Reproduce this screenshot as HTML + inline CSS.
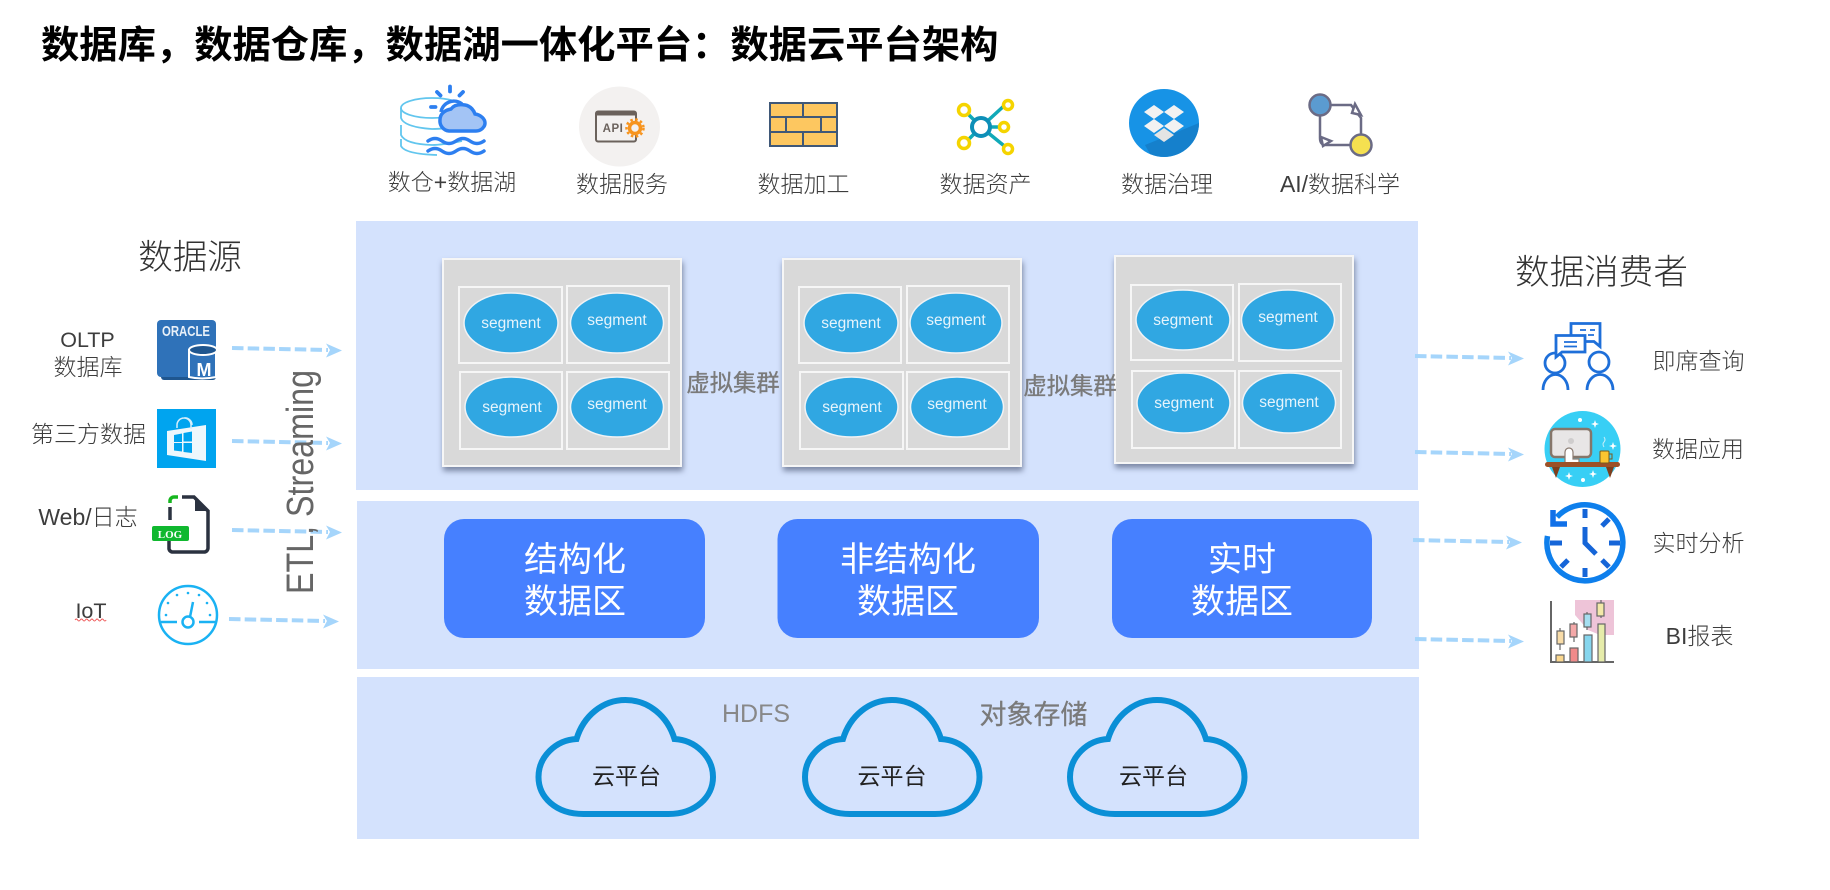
<!DOCTYPE html>
<html lang="zh"><head><meta charset="utf-8"><title>数据云平台架构</title>
<style>
html,body{margin:0;padding:0;background:#fff;width:1830px;height:890px;overflow:hidden}
svg{display:block;filter:blur(.35px)}
text{font-family:"Liberation Sans","Noto Sans CJK SC",sans-serif}
.t{fill:#3d3d3d;font-size:23px;text-anchor:middle;font-weight:300}
.big{fill:#333;font-size:34.6px;text-anchor:middle;font-weight:300}
.seg{fill:#e6f4fc;font-size:15.5px;text-anchor:middle}
.vc{fill:#7a7a7a;font-size:23.3px;text-anchor:middle;stroke:#7a7a7a;stroke-width:.35}
.zone{fill:#fff;font-size:34px;text-anchor:middle}
.cl{fill:#222;font-size:23px;text-anchor:middle}
.panel{fill:#d4e2fd}
.cluster{fill:#d9d9d9;stroke:#f6f6f6;stroke-width:2;filter:drop-shadow(1px 4px 3px rgba(50,60,90,.55))}
.box{fill:none;stroke:#f6f6f6;stroke-width:2}
.el{fill:#30a7e2;stroke:#f0f2f4;stroke-width:1.5}
.zb{fill:#4680ff}
.dash{stroke:#a5d5fb;stroke-width:4;stroke-dasharray:11.5 4.2;fill:none}
.head{fill:#a5d5fb}
.cloud{fill:none;stroke:#0a8fd6;stroke-width:6}
</style></head><body>
<svg width="1830" height="890" viewBox="0 0 1830 890" xmlns="http://www.w3.org/2000/svg">
<defs>
<g id="c"><path class="cloud" d="M41 42C48 19 67 3 90 3C113 3 132 19 139 42C160 43 177.500 60 177.500 80C177.500 100 160 117 133 117L48 117C20 117 3 100 3 80C3 60 20 43 41 42Z"/></g>
</defs>

<text x="41" y="58" font-size="38.3" font-weight="700" fill="#000">数据库，数据仓库，数据湖一体化平台：数据云平台架构</text>

<!-- panels -->
<rect class="panel" x="356" y="221" width="1062" height="269"/>
<rect class="panel" x="357" y="501" width="1062" height="168"/>
<rect class="panel" x="357" y="677" width="1062" height="162"/>

<!-- cluster 1 -->
<rect class="cluster" x="443" y="259" width="238" height="207"/>
<rect class="box" x="459" y="287" width="103" height="76"/>
<rect class="box" x="567" y="286" width="102" height="77"/>
<rect class="box" x="460" y="372" width="102" height="77"/>
<rect class="box" x="567" y="372" width="102" height="77"/>
<ellipse class="el" cx="511" cy="323" rx="47" ry="30"/>
<ellipse class="el" cx="617" cy="323" rx="46.5" ry="30"/>
<ellipse class="el" cx="511.500" cy="407" rx="46.500" ry="30"/>
<ellipse class="el" cx="617" cy="407" rx="46.500" ry="30"/>
<text class="seg" x="511" y="328">segment</text>
<text class="seg" x="617" y="325">segment</text>
<text class="seg" x="512" y="412">segment</text>
<text class="seg" x="617" y="409">segment</text>

<!-- cluster 2 -->
<rect class="cluster" x="783" y="259" width="238" height="207"/>
<rect class="box" x="799" y="287" width="102" height="76"/>
<rect class="box" x="907" y="286" width="102" height="77"/>
<rect class="box" x="800" y="372" width="103" height="77"/>
<rect class="box" x="907" y="372" width="102" height="77"/>
<ellipse class="el" cx="851" cy="323" rx="47" ry="30"/>
<ellipse class="el" cx="956" cy="323" rx="46" ry="30"/>
<ellipse class="el" cx="851.500" cy="407" rx="46.500" ry="30"/>
<ellipse class="el" cx="957" cy="407" rx="46.500" ry="30"/>
<text class="seg" x="851" y="328">segment</text>
<text class="seg" x="956" y="325">segment</text>
<text class="seg" x="852" y="412">segment</text>
<text class="seg" x="957" y="409">segment</text>

<!-- cluster 3 -->
<rect class="cluster" x="1115" y="256" width="238" height="207"/>
<rect class="box" x="1131" y="285" width="102" height="75"/>
<rect class="box" x="1239" y="284" width="102" height="77"/>
<rect class="box" x="1132" y="371" width="103" height="77"/>
<rect class="box" x="1239" y="371" width="102" height="77"/>
<ellipse class="el" cx="1183" cy="320" rx="47" ry="30"/>
<ellipse class="el" cx="1288" cy="320" rx="46.500" ry="30"/>
<ellipse class="el" cx="1183.500" cy="403" rx="46.500" ry="30"/>
<ellipse class="el" cx="1289" cy="403" rx="46.500" ry="30"/>
<text class="seg" x="1183" y="325">segment</text>
<text class="seg" x="1288" y="322">segment</text>
<text class="seg" x="1184" y="408">segment</text>
<text class="seg" x="1289" y="407">segment</text>

<text class="vc" x="733" y="391">虚拟集群</text>
<text class="vc" x="1070" y="394">虚拟集群</text>

<!-- zones -->
<rect class="zb" x="444" y="519" width="261" height="119" rx="20"/>
<rect class="zb" x="777.500" y="519" width="261.500" height="119" rx="20"/>
<rect class="zb" x="1112" y="519" width="260" height="119" rx="20"/>
<text class="zone" x="575" y="571">结构化</text><text class="zone" x="575" y="613">数据区</text>
<text class="zone" x="908" y="571">非结构化</text><text class="zone" x="908" y="613">数据区</text>
<text class="zone" x="1242" y="571">实时</text><text class="zone" x="1242" y="613">数据区</text>

<!-- clouds -->
<use href="#c" x="535.500" y="697"/>
<use href="#c" x="802" y="697"/>
<use href="#c" x="1067" y="697"/>
<text class="cl" x="626.500" y="784">云平台</text>
<text class="cl" x="892" y="784">云平台</text>
<text class="cl" x="1153.500" y="784">云平台</text>
<text x="756" y="722" font-size="25" fill="#888" text-anchor="middle">HDFS</text>
<text x="1033.500" y="724" font-size="27" fill="#7a7a7a" stroke="#7a7a7a" stroke-width=".3" text-anchor="middle">对象存储</text>

<!-- left -->
<text class="big" x="190" y="269">数据源</text>
<text class="t" x="87.500" y="347" style="font-size:21.500px">OLTP</text>
<text class="t" x="88" y="375">数据库</text>
<text class="t" x="88.500" y="442">第三方数据</text>
<text class="t" x="88" y="525">Web/日志</text>
<text class="t" x="91" y="618" style="font-size:21.500px">IoT</text>
<path d="M75 620q1.300-2 2.600 0t2.600 0 2.600 0 2.600 0 2.600 0 2.600 0 2.600 0 2.600 0 2.600 0 2.600 0 2.600 0 2.600 0" fill="none" stroke="#e55" stroke-width=".9"/>

<!-- oracle -->
<rect x="161" y="325" width="55" height="55" rx="3" fill="#1f568f"/>
<rect x="157" y="320" width="59" height="57" rx="4" fill="#2f72b9"/>
<text x="186" y="336" font-size="15" font-weight="700" fill="#e8f0f8" text-anchor="middle" textLength="48" lengthAdjust="spacingAndGlyphs">ORACLE</text>
<path d="M189 350v27q13 3 27 0v-27z" fill="#2f72b9" stroke="#fff" stroke-width="2"/>
<ellipse cx="203" cy="350" rx="14" ry="5" fill="#1f568f" stroke="#fff" stroke-width="2"/>
<text x="204" y="376" font-size="18" font-weight="700" fill="#fff" text-anchor="middle">M</text>
<!-- store -->
<rect x="157" y="409" width="59" height="59" fill="#00a4ef"/>
<path d="M167 431L206 425V461L167 455Z" fill="#eef7fc"/>
<path d="M177 428v-3a7 7 0 0 1 14 0v4M184 418a7 7 0 0 1 8 7" fill="none" stroke="#d6eefb" stroke-width="1.500"/>
<path d="M174 435l8-1.500v8.500h-8zM183.500 433l8.500-1.500v10h-8.500zM174 443h8v8.500l-8-1zM183.500 443h8.500v10l-8.500-1z" fill="#00a4ef"/>
<!-- log -->
<path d="M170 520v-13" stroke="#2b3240" stroke-width="3.500" fill="none"/>
<path d="M170 503v-2a4 4 0 0 1 4-4h4" stroke="#16b61f" stroke-width="3.500" fill="none"/>
<path d="M182 497h12l14 14v37a4 4 0 0 1-4 4h-32a4 4 0 0 1-3-3v-8" stroke="#2b3240" stroke-width="3.500" fill="none"/>
<path d="M195 497l13 14h-13z" fill="#2b3240"/>
<rect x="152" y="526" width="37" height="15" rx="2" fill="#10b82f"/>
<text x="170" y="538" style="font-family:'Liberation Serif',serif" font-size="11" font-weight="700" fill="#fff" text-anchor="middle">LOG</text>
<!-- gauge -->
<circle cx="188" cy="615" r="29" fill="none" stroke="#1ab2f3" stroke-width="2.500"/>
<circle cx="188" cy="622" r="5.500" fill="none" stroke="#1ab2f3" stroke-width="2.500"/>
<path d="M161 622h16M199 622h18M190 617l3-15" stroke="#1ab2f3" stroke-width="2.500" fill="none"/>
<g fill="#1ab2f3"><circle cx="166" cy="615" r="1.300"/><circle cx="168" cy="603" r="1.300"/><circle cx="177" cy="595" r="1.300"/><circle cx="188" cy="593" r="1.300"/><circle cx="199" cy="595" r="1.300"/><circle cx="207" cy="603" r="1.300"/><circle cx="210" cy="615" r="1.300"/></g>

<!-- arrows left -->
<path class="dash" d="M232 348L328 350"/><path class="head" d="M342 350.500L326 343.500L330 350L326 357.500Z"/>
<path class="dash" d="M232 441L328 443"/><path class="head" d="M342 443.500L326 436.500L330 443L326 450.500Z"/>
<path class="dash" d="M232 530L328 532"/><path class="head" d="M342 532.500L326 525.500L330 532L326 539.500Z"/>
<path class="dash" d="M229 619L325 621"/><path class="head" d="M339 621.500L323 614.500L327 621L323 628.500Z"/>

<!-- ETL -->
<text transform="translate(313 594) rotate(-90)" font-size="38" fill="#666" textLength="224" lengthAdjust="spacingAndGlyphs">ETL, Streaming</text>

<!-- right -->
<text class="big" x="1601.500" y="284">数据消费者</text>
<text class="t" x="1698.500" y="369">即席查询</text>
<text class="t" x="1698" y="457">数据应用</text>
<text class="t" x="1698.500" y="551">实时分析</text>
<text class="t" x="1699.500" y="644">BI报表</text>
<path class="dash" d="M1415 356L1511 358"/><path class="head" d="M1524 358.500L1508 351.500L1512 358L1508 365.500Z"/>
<path class="dash" d="M1415 452L1511 454"/><path class="head" d="M1524 454.500L1508 447.500L1512 454L1508 461.500Z"/>
<path class="dash" d="M1413 540L1509 542"/><path class="head" d="M1522 542.500L1506 535.500L1510 542L1506 549.500Z"/>
<path class="dash" d="M1415 639L1511 641"/><path class="head" d="M1524 641.500L1508 634.500L1512 641L1508 648.500Z"/>

<!-- people -->
<g fill="none" stroke="#1e6fd9" stroke-width="2.800">
<circle cx="1555" cy="363" r="10"/><circle cx="1599" cy="362" r="10"/>
<path d="M1543 390a12.500 15.500 0 0 1 25 0M1587 390a13 15.500 0 0 1 26 0"/>
<path d="M1571 323.500h29v23l-6-5h-23z" fill="#fff"/>
<path d="M1556 335.500h29v16.500h-23l-6 5z" fill="#fff"/>
<path d="M1564 342h13M1564 346.500h13M1580 330h6M1590 330h5M1588 335h6" stroke-width="1.800"/>
</g>
<!-- monitor -->
<circle cx="1582.500" cy="449" r="38" fill="#38cff5"/>
<rect x="1551" y="429" width="40" height="28" rx="4" fill="#e8e6e6" stroke="#85766a" stroke-width="2.500"/>
<circle cx="1571" cy="441" r="3" fill="#cfcdcd"/>
<path d="M1565 463v-11a4 4 0 0 1 8 0v7h6v4z" fill="#fff" stroke="#8a7a70" stroke-width="1.200"/>
<rect x="1545" y="462" width="75" height="5" rx="2.500" fill="#9c5128"/>
<path d="M1552 467h8l-4 11zM1606 467h8l-4 11z" fill="#7e3f1e"/>
<rect x="1600" y="451" width="9" height="12" rx="1" fill="#fbc531" stroke="#7a5a20"/>
<path d="M1609 454h3v5h-3" fill="none" stroke="#7a5a20"/>
<path d="M1604 447q-2-3 0-5t0-5" fill="none" stroke="#c9eef9"/>
<g fill="#fff"><circle cx="1580" cy="420" r="2"/><circle cx="1583" cy="480" r="2"/><path d="M1595 420l1 3 3 1-3 1-1 3-1-3-3-1 3-1zM1613 442l1 3 3 1-3 1-1 3-1-3-3-1 3-1zM1569 472l1 3 3 1-3 1-1 3-1-3-3-1 3-1zM1593 470l1 3 3 1-3 1-1 3-1-3-3-1 3-1z"/></g>
<!-- clock -->
<g fill="none" stroke="#0e7fec" stroke-width="5.500">
<path d="M1557 517A38 38 0 1 1 1547.500 536"/>
</g>
<path d="M1553 510v14h14" fill="none" stroke="#1070e8" stroke-width="5.500"/>
<g stroke="#1565d8" stroke-width="5" fill="none">
<path d="M1585 509v9M1585 568v9M1550 543h12M1609 543h11M1609 519l-7 7M1609 567l-7-7M1561 567l7-7M1585 527v16l11 11"/>
</g>
<!-- chart -->
<path d="M1575 600h39v35h-14l-12-5-13-15z" fill="#eec4d8"/>
<path d="M1551 601v61h63" fill="none" stroke="#666" stroke-width="2"/>
<g stroke="#666" stroke-width="1.200">
<rect x="1556" y="655" width="8" height="7" fill="#fbd88f"/>
<rect x="1570" y="648" width="8" height="14" fill="#f08a8a"/>
<rect x="1584" y="635" width="8" height="27" fill="#86d6ee"/>
<rect x="1598" y="624" width="7" height="38" fill="#e6ecaa"/>
<path d="M1560 628v22M1574 622v20M1587 612v18M1601 600v18"/>
<rect x="1557" y="631" width="7" height="13" fill="#f8dca8"/>
<rect x="1570" y="624" width="7" height="13" fill="#f4a9a9"/>
<rect x="1584" y="614" width="7" height="13" fill="#a6def0"/>
<rect x="1597" y="603" width="7" height="13" fill="#f3e8a8"/>
</g>

<!-- top labels -->
<text class="t" x="452" y="190">数仓+数据湖</text>
<text class="t" x="622" y="192">数据服务</text>
<text class="t" x="803.500" y="192">数据加工</text>
<text class="t" x="985.500" y="192">数据资产</text>
<text class="t" x="1167" y="192">数据治理</text>
<text class="t" x="1340" y="192">AI/数据科学</text>

<!-- db lake -->
<g fill="none" stroke="#62c6ee" stroke-width="1.800">
<ellipse cx="432" cy="108" rx="31" ry="10"/>
<path d="M401 108v10q3 9 31 11 12 0 31-3M401 125v10q4 9 31 10 10 0 30-4M401 139v7q4 8 36 9"/>
</g>
<path d="M441 112a13 13 0 0 1 21-8" fill="none" stroke="#2d7ff0" stroke-width="3.500"/>
<path d="M450 86.500v5M437 92l3.500 3.500M463 92l-3.500 3.500M431 107h4.500" stroke="#2d7ff0" stroke-width="3.800" stroke-linecap="round"/>
<path d="M449 131a10 10 0 0 1-9-11c0-7 6-10 11-11 3-4 8-5 14-4 6 1 9 6 10 9 6 1 10 5 10 9 0 4-4 8-9 8z" fill="#a3c4f5" stroke="#2d7ff0" stroke-width="3.500"/>
<path d="M428 141q7-5 14 0t14 0 14 0 14 0M428 151q7-5 14 0t14 0 14 0 14 0" fill="none" stroke="#2d7ff0" stroke-width="3.500" stroke-linecap="round"/>

<!-- api -->
<ellipse cx="619.500" cy="126.500" rx="40.500" ry="40" fill="#f3f1f0"/>
<rect x="596" y="111.500" width="40" height="30" rx="2" fill="#f3f1f0" stroke="#6b625c" stroke-width="2"/>
<rect x="596" y="111.500" width="40" height="4" fill="#6b625c"/>
<text x="613" y="132" font-size="11.500" font-weight="700" fill="#6b625c" text-anchor="middle" letter-spacing=".5">API</text>
<circle cx="635" cy="128" r="5.500" fill="#f3f1f0" stroke="#f7941e" stroke-width="3.500"/>
<circle cx="635" cy="128" r="8.500" fill="none" stroke="#f7941e" stroke-width="2.500" stroke-dasharray="2.500 2.500"/>

<!-- bricks -->
<g stroke="#3f5878" stroke-width="2" fill="#fdc760">
<rect x="770" y="103" width="33" height="14"/><rect x="803" y="103" width="34" height="14"/>
<rect x="770" y="117" width="16" height="15"/><rect x="786" y="117" width="35" height="15"/><rect x="821" y="117" width="16" height="15"/>
<rect x="770" y="132" width="33" height="14"/><rect x="803" y="132" width="34" height="14"/>
</g>

<!-- network -->
<g stroke="#10a9b8" stroke-width="3.500"><path d="M981 127L966 112M981 127L1006 104M981 127L1004 127M981 127L966 142M981 127L1008 149"/></g>
<circle cx="981" cy="127" r="9" fill="#fff" stroke="#0e8fb8" stroke-width="4"/>
<g fill="#fff" stroke="#f5d400" stroke-width="3.500">
<circle cx="964" cy="110" r="5.500"/><circle cx="1008" cy="105" r="4.500"/><circle cx="1004" cy="127" r="4.500"/><circle cx="964" cy="143" r="5.500"/><circle cx="1008" cy="149" r="4.500"/>
</g>

<!-- dropbox -->
<ellipse cx="1164" cy="123" rx="35" ry="34" fill="#1793e6"/>
<path d="M1145 145L1199 123A35 34 0 0 1 1150 154Z" fill="#1580cc"/>
<g fill="#f2f2f2"><path d="M1154 105l10 7-10 7-10-7zM1174 105l10 7-10 7-10-7zM1154 119l10 7-10 7-10-7zM1174 119l10 7-10 7-10-7z"/><path d="M1164 128l10 7-10 7-10-7z" fill="#e4e4e4"/></g>

<!-- ai -->
<g fill="none" stroke="#6b6b85" stroke-width="2.500">
<path d="M1331 105h20l10 13v17M1320 116v22q0 7 6 7h24"/>
<path d="M1352 113l3-9 6 11z" fill="#fff"/>
<path d="M1323 146l-2-9 10 4z" fill="#fff"/>
</g>
<circle cx="1320" cy="105" r="10.500" fill="#5b9bd0" stroke="#6b6b85" stroke-width="2.500"/>
<circle cx="1361" cy="145" r="10.500" fill="#f5e050" stroke="#6b6b85" stroke-width="2.500"/>
</svg>
</body></html>
